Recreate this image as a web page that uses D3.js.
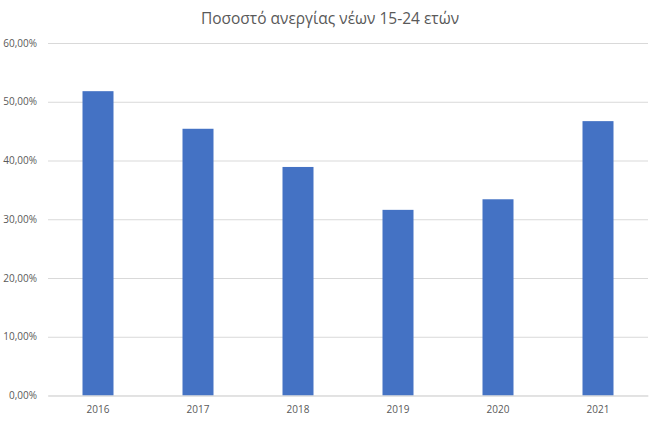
<!DOCTYPE html>
<html>
<head>
<meta charset="utf-8">
<script src="https://cdn.jsdelivr.net/npm/d3@7"></script>
<style>
  body { margin: 0; background: #fff; }
  text { font-family: "Open Sans", "Noto Sans", sans-serif; fill: #595959; }
</style>
</head>
<body>
<script>
// Data
const years = ["2016", "2017", "2018", "2019", "2020", "2021"];
const rates = [0.518, 0.454, 0.389, 0.316, 0.334, 0.467];
const yTicks = [0, 0.1, 0.2, 0.3, 0.4, 0.5, 0.6];
const title = "Ποσοστό ανεργίας νέων 15-24 ετών";

const w = 661;
const h = 423;
const plotLeft = 48, plotRight = 648, plotTop = 43, plotBottom = 395.5;

const locale = d3.formatLocale({decimal: ",", thousands: ".", grouping: [3], currency: ["", "€"]});
const pct = locale.format(".2%");

// Scales
const xScale = d3.scaleBand()
                 .domain(years)
                 .range([plotLeft, plotRight])
                 .paddingInner(0.69)
                 .paddingOuter(0.345);

const yScale = d3.scaleLinear()
                 .domain([0, 0.6])
                 .range([plotBottom, plotTop]);

const svg = d3.select("body")
              .append("svg")
              .attr("width", w)
              .attr("height", h);

// Gridlines + y labels
const yAxis = d3.axisLeft(yScale)
                .tickValues(yTicks)
                .tickFormat(pct)
                .tickSize(-(plotRight - plotLeft))
                .tickPadding(11);

svg.append("g")
   .attr("transform", "translate(" + plotLeft + ",0)")
   .call(yAxis)
   .call(g => g.select(".domain").remove())
   .call(g => g.selectAll("line").attr("stroke", "#d9d9d9").attr("stroke-width", 1))
   .call(g => g.selectAll("text").attr("font-size", "10px").attr("fill", "#595959"));

// Bars
svg.selectAll("rect")
   .data(years)
   .enter()
   .append("rect")
   .attr("x", (d) => xScale(d))
   .attr("y", (d, i) => yScale(rates[i]))
   .attr("width", xScale.bandwidth())
   .attr("height", (d, i) => plotBottom - yScale(rates[i]))
   .attr("fill", "#4472c4");

// x axis labels
const xAxis = d3.axisBottom(xScale).tickSize(0).tickPadding(10);
svg.append("g")
   .attr("transform", "translate(0," + plotBottom + ")")
   .call(xAxis)
   .call(g => g.select(".domain").attr("stroke", "#d9d9d9"))
   .call(g => g.selectAll("text").attr("font-size", "10px").attr("fill", "#595959"));

// Title
svg.append("text")
   .attr("x", 330)
   .attr("y", 24)
   .attr("text-anchor", "middle")
   .attr("font-size", "15.5px")
   .text(title);
</script>
</body>
</html>
